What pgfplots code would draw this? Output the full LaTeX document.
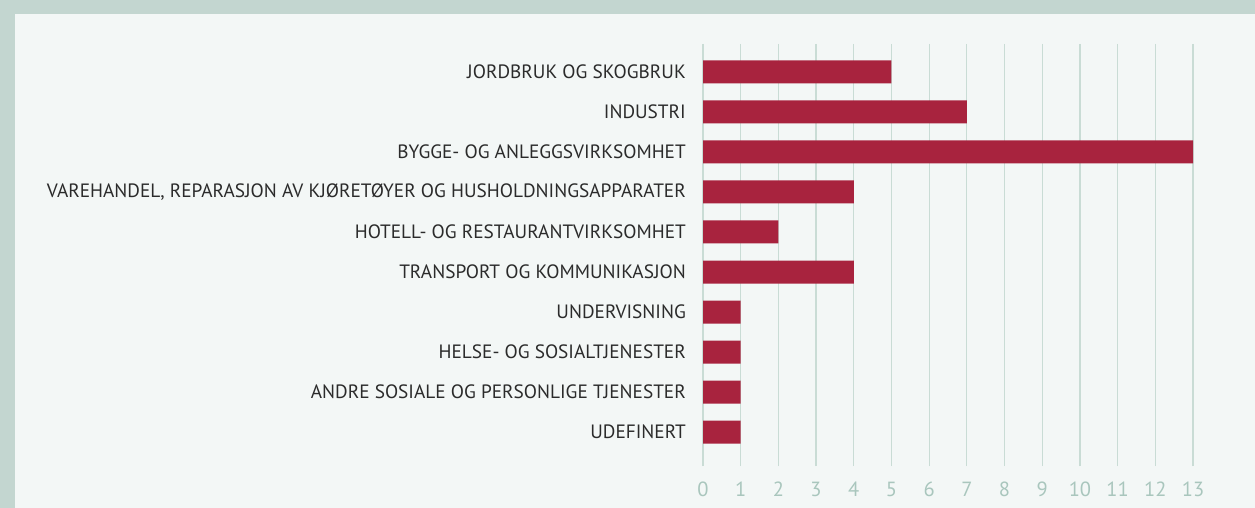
\documentclass[border=0pt]{standalone}
\usepackage{pgfplots}
\pgfplotsset{compat=1.18}
\usepackage{fontspec}
\setmainfont{PT Sans}
\definecolor{frame}{HTML}{C3D6D0}
\definecolor{panel}{HTML}{F3F7F6}
\definecolor{barred}{HTML}{A8233E}
\definecolor{gridc}{HTML}{C9DCD5}
\definecolor{tickc}{HTML}{A9C6BD}
\definecolor{labc}{HTML}{2B2B2B}

\begin{document}
\begin{tikzpicture}
% page frame and panel
\useasboundingbox (0bp,0bp) rectangle (1255bp,508bp);
\fill[frame] (0bp,0bp) rectangle (1255bp,508bp);
\fill[panel] (15bp,0bp) rectangle (1255bp,494bp);

\begin{axis}[
    at={(703bp,48bp)}, anchor=south west,
    scale only axis,
    width=490bp, height=416bp,
    xbar, bar width=23bp,
    xmin=0, xmax=13,
    ymin=-0.7, ymax=9.7,
    y dir=reverse,
    axis line style={draw=none},
    xtick={0,...,13},
    xtick pos=bottom,
    tick align=outside,
    major tick length=6bp,
    xtick style={draw=gridc, line width=1.2bp},
    ytick={0,...,9},
    ytick style={draw=none},
    yticklabels={JORDBRUK OG SKOGBRUK, INDUSTRI, BYGGE- OG ANLEGGSVIRKSOMHET,
      {VAREHANDEL, REPARASJON AV KJØRETØYER OG HUSHOLDNINGSAPPARATER},
      HOTELL- OG RESTAURANTVIRKSOMHET, TRANSPORT OG KOMMUNIKASJON,
      UNDERVISNING, HELSE- OG SOSIALTJENESTER,
      ANDRE SOSIALE OG PERSONLIGE TJENESTER, UDEFINERT},
    y tick label style={font=\fontsize{19.3bp}{21bp}\selectfont, text=labc, anchor=east, inner sep=0pt, xshift=-11bp},
    x tick label style={font=\fontsize{20.5bp}{22bp}\selectfont, text=tickc, inner sep=0pt, yshift=-16bp},
    /pgf/number format/assume math mode=true,
    xmajorgrids,
    grid style={draw=gridc, line width=1.2bp},
]
\addplot[fill=barred, draw=none] coordinates {
    (5,0) (7,1) (13,2) (4,3) (2,4) (4,5) (1,6) (1,7) (1,8) (1,9)
};
\end{axis}
\end{tikzpicture}
\end{document}
